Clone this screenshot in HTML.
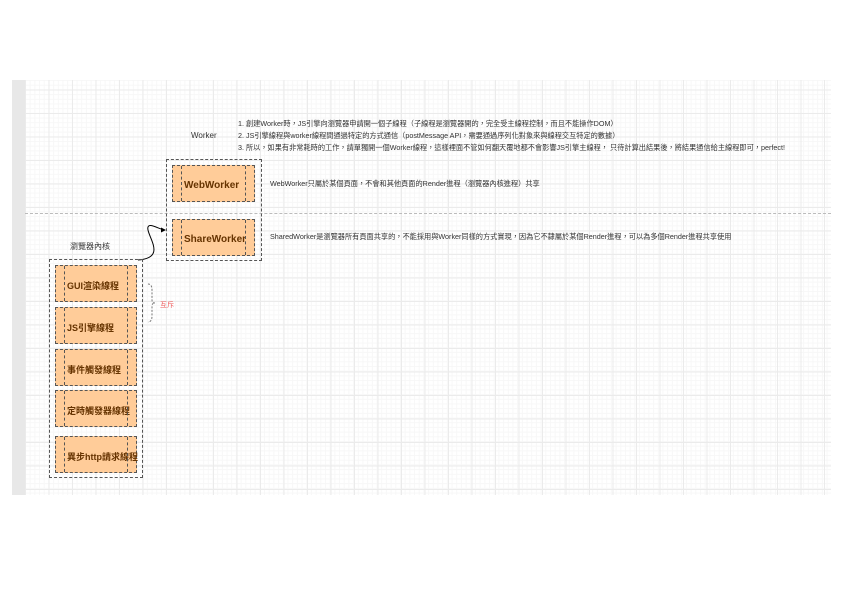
<!DOCTYPE html>
<html><head><meta charset="utf-8"><style>
body{margin:0;width:842px;height:595px;background:#fff;position:relative;overflow:hidden;font-family:"Liberation Sans","Noto Sans CJK TC",sans-serif}
.grid{position:absolute;left:25px;top:80px;width:806px;height:415px;
background-image:linear-gradient(#ebebeb 1px,transparent 1px),linear-gradient(90deg,#ebebeb 1px,transparent 1px),linear-gradient(#f7f7f7 1px,transparent 1px),linear-gradient(90deg,#f7f7f7 1px,transparent 1px);
background-size:23.5px 23.5px,23.5px 23.5px,4.7px 4.7px,4.7px 4.7px;background-position:0 -14px,0 0,0 -14px,0 0}
.band{position:absolute;left:12px;top:80px;width:13px;height:415px;background:#e8e8e8}
.box{position:absolute;background:#ffcc99;border:1px dashed #555;box-sizing:border-box;font-weight:bold;font-size:10px;color:#663300;display:flex;align-items:center;padding-left:11px;padding-top:3px;white-space:nowrap}
.box::before,.box::after{content:"";position:absolute;top:0;bottom:0;border-left:1px dashed #555}
.box::before{left:8px}.box::after{right:8px}
.cont{position:absolute;border:1px dashed #555;box-sizing:border-box}
.t{position:absolute;font-size:7.2px;color:#333;white-space:nowrap}
</style></head><body>
<div class="band"></div><div class="grid"></div>
<div style="position:absolute;left:25px;top:213px;width:806px;border-top:1px dashed #bbb"></div>
<div class="t" style="left:191px;top:131px;font-size:8px">Worker</div>
<div class="t" style="left:238px;top:119px">1. 創建Worker時，JS引擎向瀏覽器申請開一個子線程（子線程是瀏覽器開的，完全受主線程控制，而且不能操作DOM）</div>
<div class="t" style="left:238px;top:131px">2. JS引擎線程與worker線程間通過特定的方式通信（postMessage API，需要通過序列化對象來與線程交互特定的數據）</div>
<div class="t" style="left:238px;top:143px">3. 所以，如果有非常耗時的工作，請單獨開一個Worker線程，這樣裡面不管如何翻天覆地都不會影響JS引擎主線程， 只待計算出結果後，將結果通信給主線程即可，perfect!</div>
<div class="cont" style="left:166px;top:159px;width:96px;height:102px"></div>
<div class="box" style="left:172px;top:165px;width:83px;height:37px;font-size:10px">WebWorker</div>
<div class="box" style="left:172px;top:219px;width:83px;height:37px;font-size:10px">ShareWorker</div>
<div class="t" style="left:270px;top:179px">WebWorker只屬於某個頁面，不會和其他頁面的Render進程（瀏覽器內核進程）共享</div>
<div class="t" style="left:270px;top:232px">SharedWorker是瀏覽器所有頁面共享的，不能採用與Worker同樣的方式實現，因為它不隸屬於某個Render進程，可以為多個Render進程共享使用</div>
<div class="t" style="left:70px;top:241px;font-size:8px">瀏覽器內核</div>
<svg style="position:absolute;left:0;top:0" width="842" height="595">
<path d="M138 260 C165 258,150 240,148 230 C146 220,160 230,165 230" fill="none" stroke="#000" stroke-width="1"/>
<polygon points="166,230 161,227.5 161,232.5" fill="#000"/>
<path d="M148 284 Q152 284 152 290 L152 300 Q152 303 155 303 Q152 303 152 306 L152 316 Q152 322 148 322" fill="none" stroke="#777" stroke-dasharray="2,1.5"/>
</svg>
<div class="t" style="left:160px;top:300px;color:#e55;font-size:7px">互斥</div>
<div class="cont" style="left:49px;top:259px;width:94px;height:219px"></div>
<div class="box" style="left:55px;top:265px;width:82px;height:37px;font-size:9px">GUI渲染線程</div>
<div class="box" style="left:55px;top:307px;width:82px;height:37px;font-size:9px">JS引擎線程</div>
<div class="box" style="left:55px;top:349px;width:82px;height:37px;font-size:9px">事件觸發線程</div>
<div class="box" style="left:55px;top:390px;width:82px;height:37px;font-size:9px">定時觸發器線程</div>
<div class="box" style="left:55px;top:436px;width:82px;height:37px;font-size:9px">異步http請求線程</div>
</body></html>
